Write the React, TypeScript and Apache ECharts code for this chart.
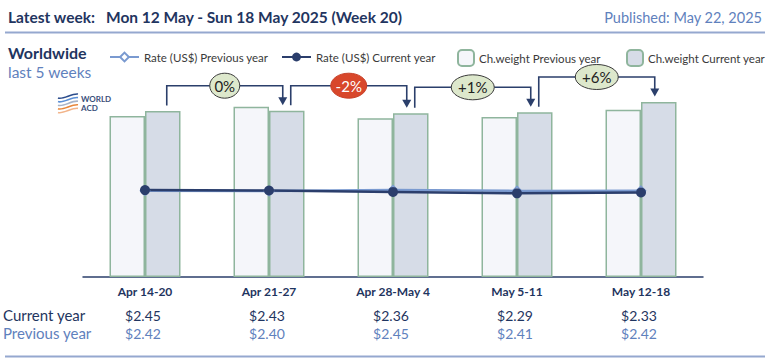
import React, { useEffect, useRef } from 'react';
import * as echarts from 'echarts';

const categories = ['Apr 14-20', 'Apr 21-27', 'Apr 28-May 4', 'May 5-11', 'May 12-18'];
const rateCurrent = [2.45, 2.43, 2.36, 2.29, 2.33];
const ratePrevious = [2.42, 2.4, 2.45, 2.41, 2.42];
const weightCurrent = [166, 166.3, 163.7, 164.7, 175];
const weightPrevious = [161, 170.3, 158.7, 160, 167.3];
const weekChange = ['0%', '-2%', '+1%', '+6%'];
const rateCurrentLabels = ['$2.45', '$2.43', '$2.36', '$2.29', '$2.33'];
const ratePreviousLabels = ['$2.42', '$2.40', '$2.45', '$2.41', '$2.42'];
const legendNames = ['Rate (US$) Previous year', 'Rate (US$) Current year', 'Ch.weight Previous year', 'Ch.weight Current year'];

const NAVY = '#1f3560';
const LIGHT = '#5f81bd';
const FONT = 'Lato, "Open Sans", sans-serif';
const BAR_W = 35.5;

export default function App() {
  const ref = useRef<HTMLDivElement>(null);
  useEffect(() => {
    const el = ref.current!;
    const chart = echarts.init(el, null, { renderer: 'svg' });
    const legendText = { fontSize: 11.5, color: '#3a3a3a', fontFamily: FONT };
    const base: any = {
      animation: false,
      backgroundColor: '#ffffff',
      textStyle: { fontFamily: FONT },
      grid: { left: 83, right: 67, top: 97, bottom: 85 },
      legend: [
        { data: [legendNames[0]], left: 104, top: 46, itemWidth: 29, itemHeight: 11, textStyle: legendText },
        { data: [legendNames[1]], left: 276, top: 46, itemWidth: 29, itemHeight: 11, textStyle: legendText },
        { data: [legendNames[2]], left: 452, top: 44, itemWidth: 16, itemHeight: 16, itemGap: 0, textStyle: legendText },
        { data: [legendNames[3]], left: 621, top: 44, itemWidth: 16, itemHeight: 16, itemGap: 0, textStyle: legendText },
      ],
      xAxis: {
        type: 'category',
        data: categories,
        axisLine: { lineStyle: { color: '#2b3f6b', width: 1.5 } },
        axisTick: { show: false },
        axisLabel: { color: NAVY, fontWeight: 'bold', fontSize: 12, margin: 8, fontFamily: FONT },
      },
      yAxis: [
        { type: 'value', min: 0, max: 180, show: false, splitLine: { show: false } },
        { type: 'value', min: -1.8, max: 7, show: false, splitLine: { show: false } },
      ],
      series: [
        {
          name: legendNames[2], type: 'bar', data: weightPrevious, barWidth: BAR_W, barGap: '0%',
          itemStyle: { color: '#f5f6fa', borderColor: '#8fb59d', borderWidth: 1.5 },
        },
        {
          name: legendNames[3], type: 'bar', data: weightCurrent, barWidth: BAR_W, barGap: '0%',
          itemStyle: { color: '#d6dce7', borderColor: '#8fb59d', borderWidth: 1.5 },
        },
        {
          name: legendNames[0], type: 'line', yAxisIndex: 1, data: ratePrevious,
          symbol: 'diamond', symbolSize: 9,
          lineStyle: { color: '#7a9ad0', width: 2.5 },
          itemStyle: { color: '#ffffff', borderColor: '#7a9ad0', borderWidth: 1.5 },
        },
        {
          name: legendNames[1], type: 'line', yAxisIndex: 1, data: rateCurrent,
          symbol: 'circle', symbolSize: 10,
          lineStyle: { color: '#2b3e6c', width: 2.5 },
          itemStyle: { color: '#2b3e6c' },
        },
      ],
    };
    chart.setOption(base);

    const catPx = (i: number) => chart.convertToPixel({ xAxisIndex: 0 }, categories[i]) as number;
    const yW = (v: number) => chart.convertToPixel({ yAxisIndex: 0 }, v) as number;

    const g: any[] = [];
    // header
    g.push({ type: 'text', x: 8, y: 17, style: { text: 'Latest week:', fill: NAVY, font: `bold 15.5px ${FONT}`, verticalAlign: 'middle' } });
    g.push({ type: 'text', x: 106, y: 17, style: { text: 'Mon 12 May - Sun 18 May 2025 (Week 20)', fill: NAVY, font: `bold 15.5px ${FONT}`, verticalAlign: 'middle' } });
    g.push({ type: 'text', x: 762, y: 17, style: { text: 'Published: May 22, 2025', fill: LIGHT, font: `14.5px ${FONT}`, verticalAlign: 'middle', align: 'right' } });
    g.push({ type: 'line', shape: { x1: 5, y1: 32.5, x2: 765, y2: 32.5 }, style: { stroke: '#95a8cf', lineWidth: 2 } });
    g.push({ type: 'text', x: 8, y: 52, style: { text: 'Worldwide', fill: NAVY, font: `bold 16px ${FONT}`, verticalAlign: 'middle' } });
    g.push({ type: 'text', x: 8, y: 72, style: { text: 'last 5 weeks', fill: LIGHT, font: `15.5px ${FONT}`, verticalAlign: 'middle' } });

    // logo
    const logoCols = ['#2b4c8c', '#5b8fd6', '#a8b4c8', '#e8863a', '#f2b48a'];
    logoCols.forEach((c, k) => {
      const yy = 96 + k * 3.6;
      g.push({ type: 'bezierCurve', shape: { x1: 58, y1: yy + 2, x2: 78, y2: yy - 2, cpx1: 63, cpy1: yy + 4, cpx2: 72, cpy2: yy - 3 }, style: { stroke: c, lineWidth: 1.6, fill: 'none' } });
    });
    g.push({ type: 'text', x: 81, y: 98.5, style: { text: 'WORLD', fill: '#3a4f7a', font: `bold 8px ${FONT}`, verticalAlign: 'middle' } });
    g.push({ type: 'text', x: 81, y: 107.5, style: { text: 'ACD', fill: '#3a4f7a', font: `bold 8px ${FONT}`, verticalAlign: 'middle' } });

    // brackets
    for (let i = 0; i < weekChange.length; i++) {
      const x1 = catPx(i) + BAR_W / 2 + 4;
      const x2 = catPx(i + 1) + BAR_W / 2 - 4;
      const t1 = yW(weightCurrent[i]);
      const t2 = yW(weightCurrent[i + 1]);
      const hy = Math.min(t1, t2) - 25;
      const tip = t2 - 5.5;
      g.push({ type: 'polyline', z: 10, shape: { points: [[x1, t1 - 5.5], [x1, hy], [x2, hy], [x2, tip - 7]] }, style: { stroke: '#2b3f6b', lineWidth: 1.6, fill: 'none' } });
      g.push({ type: 'polygon', z: 10, shape: { points: [[x2 - 4.5, tip - 8], [x2 + 4.5, tip - 8], [x2, tip]] }, style: { fill: '#2b3f6b' } });
      const lbl = weekChange[i];
      const neg = lbl.startsWith('-');
      const rx = lbl.length === 2 ? 15 : neg ? 18 : 21.5;
      const cx = (x1 + x2) / 2;
      g.push({ type: 'ellipse', z: 11, shape: { cx, cy: hy, rx, ry: 12.5 }, style: { fill: neg ? '#d8472b' : '#dde8cc', stroke: neg ? '#c84027' : '#3a3a3a', lineWidth: 1 } });
      g.push({ type: 'text', z: 12, x: cx, y: hy, style: { text: lbl, fill: neg ? '#ffffff' : '#222222', font: `15px ${FONT}`, align: 'center', verticalAlign: 'middle' } });
    }

    // table
    g.push({ type: 'text', x: 3, y: 315, style: { text: 'Current year', fill: NAVY, font: `15px ${FONT}`, verticalAlign: 'middle' } });
    g.push({ type: 'text', x: 3, y: 333, style: { text: 'Previous year', fill: LIGHT, font: `15px ${FONT}`, verticalAlign: 'middle' } });
    for (let i = 0; i < categories.length; i++) {
      const x = catPx(i) - 2;
      g.push({ type: 'text', x, y: 315, style: { text: rateCurrentLabels[i], fill: NAVY, font: `14px ${FONT}`, align: 'center', verticalAlign: 'middle' } });
      g.push({ type: 'text', x, y: 333, style: { text: ratePreviousLabels[i], fill: LIGHT, font: `14px ${FONT}`, align: 'center', verticalAlign: 'middle' } });
    }
    g.push({ type: 'line', shape: { x1: 5, y1: 356.5, x2: 765, y2: 356.5 }, style: { stroke: '#95a8cf', lineWidth: 2 } });

    chart.setOption({ graphic: g });
    return () => chart.dispose();
  }, []);
  return <div ref={ref} style={{ position: 'fixed', left: 0, top: 0, width: 770, height: 362, background: '#fff' }} />;
}
